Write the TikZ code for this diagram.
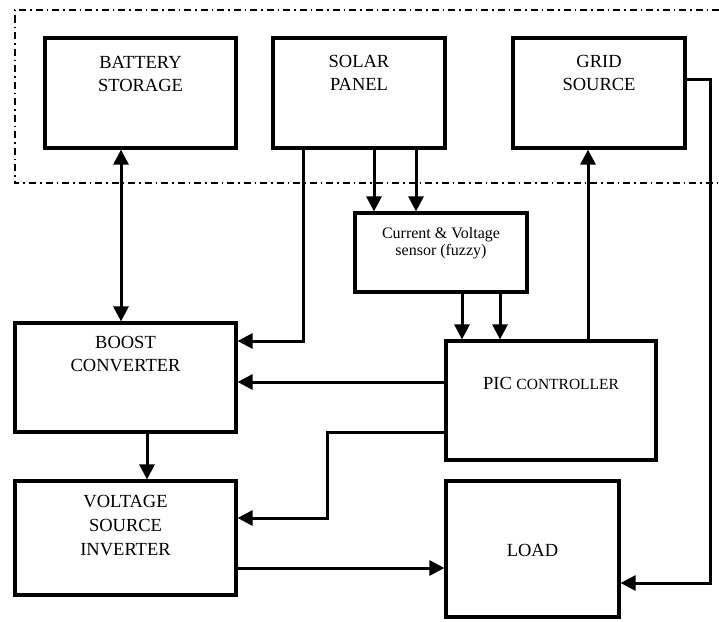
\documentclass[tikz,border=0pt]{standalone}
\usepackage{fontspec}
\setmainfont{Liberation Serif}
\usetikzlibrary{positioning}
\usetikzlibrary{arrows.meta}

\begin{document}
\begin{tikzpicture}[x=1pt, y=-1pt, >={Triangle[length=15pt, width=15pt]},
    block/.style={draw=black, line width=3.2pt, inner sep=0pt},
    lbl/.style={inner sep=0pt, anchor=north, align=center, font=\fontsize{18.5}{23}\selectfont},
    wire/.style={line width=3pt},
    frame/.style={line width=1.2pt, dash pattern=on 7pt off 4pt on 1.5pt off 4pt}]

        \useasboundingbox (0,0) rectangle (719,621);

        % Dash-dot frame round the sources
        \draw[frame] (719,10) -| (15,183) -- (719,183);

        % Blocks
        \node[block, minimum width=191pt, minimum height=110pt] (batt) at (140.5,93) {};
        \node[block, minimum width=172pt, minimum height=110pt] (solar) at (359,93) {};
        \node[block, minimum width=172pt, minimum height=110pt] (grid) at (599,93) {};
        \node[block, minimum width=172pt, minimum height=79pt] (sensor) at (441,252.5) {};
        \node[block, minimum width=221pt, minimum height=109pt] (boost) at (125.5,377.5) {};
        \node[block, minimum width=210pt, minimum height=119pt] (pic) at (551,400.5) {};
        \node[block, minimum width=221pt, minimum height=114pt] (vsi) at (125.5,538) {};
        \node[block, minimum width=173pt, minimum height=136pt] (load) at (532.5,549) {};

        % Labels
        \node[lbl, below=20pt of batt.north] (battlbl) {BATTERY\\STORAGE};
        \node[lbl, below=19pt of solar.north] (solarlbl) {SOLAR\\PANEL};
        \node[lbl, below=19pt of grid.north] (gridlbl) {GRID\\SOURCE};
        \node[lbl, below=16pt of sensor.north, font=\fontsize{16}{17}\selectfont] (sensorlbl) {Current \& Voltage\\sensor (fuzzy)};
        \node[lbl, below=15pt of boost.north] (boostlbl) {BOOST\\CONVERTER};
        \node[lbl, below=38pt of pic.north] (piclbl) {PIC {\fontsize{15.5}{18}\selectfont CONTROLLER}};
        \node[lbl, below=16pt of vsi.north, font=\fontsize{18.5}{24}\selectfont] (vsilbl) {VOLTAGE\\SOURCE\\INVERTER};
        \node[lbl, below=65pt of load.north] (loadlbl) {LOAD};

        % Connectors
        \draw[wire, <->] (121,0 |- batt.south) -- (121,0 |- boost.north);
        \draw[wire, ->] (303,0 |- solar.south) |- (boost.east |- 0,341);
        \foreach \x in {374,416} {
          \draw[wire, ->] (\x,0 |- solar.south) -- (\x,0 |- sensor.north);
        }
        \foreach \x in {462,500} {
          \draw[wire, ->] (\x,0 |- sensor.south) -- (\x,0 |- pic.north);
        }
        \draw[wire, ->] (588,0 |- pic.north) -- (588,0 |- grid.south);
        \draw[wire, ->] (grid.east |- 0,79) -| (710,583) -- (load.east |- 0,583);
        \draw[wire, ->] (pic.west |- 0,382) -- (boost.east |- 0,382);
        \draw[wire, ->] (pic.west |- 0,432) -| (327,518) -- (vsi.east |- 0,518);
        \draw[wire, ->] (147,0 |- boost.south) -- (147,0 |- vsi.north);
        \draw[wire, ->] (vsi.east |- 0,568) -- (load.west |- 0,568);

\end{tikzpicture}
\end{document}
